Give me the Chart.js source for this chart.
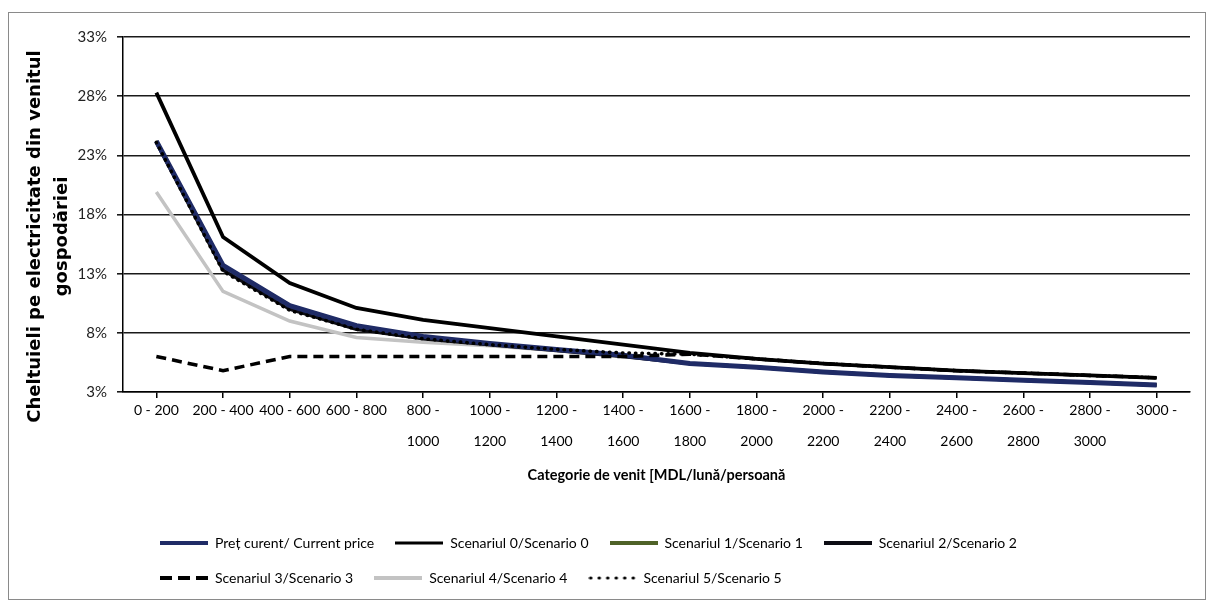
<!DOCTYPE html>
<html>
<head>
<meta charset="utf-8">
<script src="https://cdn.jsdelivr.net/npm/chart.js@4"></script>
<style>
  html, body { margin: 0; padding: 0; background: #fff; }
  #cadru { position: absolute; left: 8px; top: 12px; width: 1196px; height: 586px; border: 1.5px solid #8a8a8a; }
  #zona { position: absolute; left: 0; top: 0; width: 1213px; height: 607px; }
</style>
</head>
<body>
<div id="cadru"></div>
<div id="zona"><canvas id="graficCheltuieli"></canvas></div>
<script>
// Categorii de venit (MDL/lună/persoană)
const categorii = ['0 - 200', '200 - 400', '400 - 600', '600 - 800', ['800 -', '1000'], ['1000 -', '1200'],
    ['1200 -', '1400'], ['1400 -', '1600'], ['1600 -', '1800'], ['1800 -', '2000'], ['2000 -', '2200'],
    ['2200 -', '2400'], ['2400 -', '2600'], ['2600 -', '2800'], ['2800 -', '3000'], '3000 -'];

// Ponderea cheltuielilor pe electricitate (%)
const pretCurent = [24.2, 13.7, 10.3, 8.6, 7.7, 7.1, 6.6, 6.1, 5.4, 5.1, 4.7, 4.4, 4.2, 4.0, 3.8, 3.6];
const scenariu0 = [28.3, 16.1, 12.2, 10.1, 9.1, 8.4, 7.7, 7.0, 6.3, 5.8, 5.4, 5.1, 4.8, 4.6, 4.4, 4.2];
const scenariu1 = [24.2, 13.7, 10.3, 8.6, 7.7, 7.1, 6.6, 6.1, 5.4, 5.1, 4.7, 4.4, 4.2, 4.0, 3.8, 3.6];
const scenariu2 = [24.1, 13.3, 10.0, 8.3, 7.5, 7.0, 6.5, 6.0, 5.4, 5.1, 4.7, 4.4, 4.2, 4.0, 3.8, 3.6];
const scenariu3 = [6.0, 4.8, 6.0, 6.0, 6.0, 6.0, 6.0, 6.0, 6.2, 5.8, 5.4, 5.1, 4.8, 4.6, 4.4, 4.2];
const scenariu4 = [19.9, 11.5, 9.0, 7.6, 7.2, 6.9, 6.5, 6.0, 5.4, 5.1, 4.7, 4.4, 4.2, 4.0, 3.8, 3.6];
const scenariu5 = [24.1, 13.2, 9.9, 8.3, 7.5, 7.0, 6.6, 6.3, 6.2, 5.8, 5.4, 5.1, 4.8, 4.6, 4.4, 4.2];

// Axa Y
const tickMinim = 3;
const tickMaxim = 33;
const pasTick = 5;

const fontText = "Lato, 'Open Sans', sans-serif";

// simbol de linie pentru legenda (cu linie punctata / intrerupta)
function simbolLinie(culoare, grosime, linie, capat) {
    const c = document.createElement('canvas');
    c.width = 48;
    c.height = 10;
    const g = c.getContext('2d');
    g.strokeStyle = culoare;
    g.lineWidth = grosime;
    g.lineCap = capat;
    g.setLineDash(linie);
    g.beginPath();
    g.moveTo(capat === 'round' ? 2 : 0, 5);
    g.lineTo(48, 5);
    g.stroke();
    return c;
}

function serie(eticheta, date, culoare, grosime, ordine, linie) {
    return {
        label: eticheta,
        data: date,
        borderColor: culoare,
        backgroundColor: culoare,
        borderWidth: grosime,
        borderDash: linie || [],
        borderCapStyle: linie && linie[0] < 2 ? 'round' : 'butt',
        pointRadius: 0,
        tension: 0,
        order: ordine
    };
}

const simboluri = [
    simbolLinie('#1f2b66', 4, [], 'butt'),
    simbolLinie('#000000', 3, [], 'butt'),
    simbolLinie('#4f6228', 4, [], 'butt'),
    simbolLinie('#0d0d14', 4, [], 'butt'),
    simbolLinie('#000000', 4, [12, 6], 'butt'),
    simbolLinie('#c3c3c3', 4, [], 'butt'),
    simbolLinie('#000000', 3, [0.5, 8], 'round')
];

// muta legenda spre dreapta si titlul axei Y putin in jos, ca in original
const ajustari = {
    id: 'ajustari',
    afterLayout(chart) {
        chart.legend.left += 16;
        chart.legend.right += 16;
        const axaY = chart.scales.y;
        if (!axaY._titluMutat) {
            const desen = axaY.drawTitle;
            axaY.drawTitle = function () {
                this.ctx.save();
                this.ctx.translate(0, 22);
                desen.call(this);
                this.ctx.restore();
            };
            axaY._titluMutat = true;
        }
    }
};

const ctx = document.getElementById('graficCheltuieli').getContext('2d');
new Chart(ctx, {
    type: 'line',
    data: {
        labels: categorii,
        datasets: [
            serie('Preț curent/ Current price', pretCurent, '#1f2b66', 5, 3),
            serie('Scenariul 0/Scenario 0', scenariu0, '#000000', 3.8, 2),
            serie('Scenariul 1/Scenario 1', scenariu1, '#4f6228', 3.5, 6),
            serie('Scenariul 2/Scenario 2', scenariu2, '#0d0d14', 3.5, 4),
            serie('Scenariul 3/Scenario 3', scenariu3, '#000000', 3.5, 1, [10, 6]),
            serie('Scenariul 4/Scenario 4', scenariu4, '#c3c3c3', 3.5, 5),
            serie('Scenariul 5/Scenario 5', scenariu5, '#000000', 3.5, 0, [0.5, 6])
        ]
    },
    plugins: [ajustari],
    options: {
        responsive: true,
        maintainAspectRatio: false,
        animation: false,
        layout: { padding: { left: 0, top: 37, right: 23, bottom: 12 } },
        plugins: {
            tooltip: { enabled: false },
            legend: {
                position: 'bottom',
                align: 'start',
                fullSize: false,
                labels: {
                    usePointStyle: true,
                    pointStyleWidth: 48,
                    padding: 21,
                    color: '#000',
                    font: { family: fontText, size: 14 },
                    generateLabels: (chart) => Chart.defaults.plugins.legend.labels.generateLabels(chart)
                        .map(item => Object.assign(item, { pointStyle: simboluri[item.datasetIndex] })),
                    sort: (a, b) => a.datasetIndex - b.datasetIndex
                }
            }
        },
        scales: {
            x: {
                offset: true,
                afterFit: (scala) => { scala.height = 123; },
                grid: { drawOnChartArea: false, drawTicks: true, tickLength: 6, color: '#000', lineWidth: 1.5 },
                border: { color: '#000', width: 1.5 },
                ticks: {
                    autoSkip: false,
                    maxRotation: 0,
                    padding: -3,
                    color: '#000',
                    font: { family: fontText, size: 14, lineHeight: 2.2 }
                },
                title: {
                    display: true,
                    text: 'Categorie de venit [MDL/lună/persoană',
                    color: '#000',
                    font: { family: fontText, size: 14.5, weight: 'bold' },
                    padding: { top: 0, bottom: 31 }
                }
            },
            y: {
                min: tickMinim,
                max: tickMaxim,
                afterFit: (scala) => { scala.width = 123; },
                grid: { color: '#1a1a1a', lineWidth: 1.6, tickLength: 6 },
                border: { color: '#000', width: 1.5 },
                ticks: {
                    stepSize: pasTick,
                    padding: 10,
                    color: '#222',
                    font: { family: fontText, size: 15 },
                    callback: (v) => v + '%'
                },
                title: {
                    display: true,
                    text: ['Cheltuieli pe electricitate din venitul', 'gospodăriei'],
                    color: '#000',
                    font: { family: 'DejaVu Sans, sans-serif', size: 18, weight: 'bold', lineHeight: 1.5 },
                    padding: { top: 22, bottom: 0 }
                }
            }
        }
    }
});
</script>
</body>
</html>
